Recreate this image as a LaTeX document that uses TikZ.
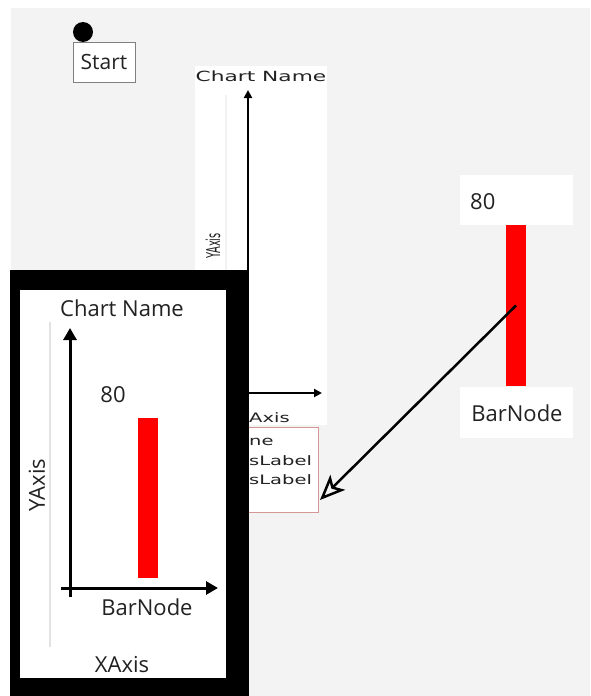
\documentclass[tikz,border=0pt]{standalone}
\usepackage{fontspec}
\usepackage{graphicx}
\setmainfont{Open Sans}
\newfontfamily\dvfont{DejaVu Sans}
\usetikzlibrary{arrows.meta}
\definecolor{canvasgray}{RGB}{243,243,243}
\definecolor{rose}{RGB}{214,150,150}
\definecolor{hairgray}{RGB}{226,226,226}
\definecolor{paleline}{RGB}{242,242,242}
\definecolor{uitext}{RGB}{34,34,34}
\newcommand{\wide}[1]{\scalebox{1.5}[1]{#1}}
\pgfdeclarelayer{backlayer}
\pgfdeclarelayer{panellayer}
\pgfdeclarelayer{framelayer}
\pgfsetlayers{backlayer,panellayer,framelayer,main}
\tikzstyle{none}=[inner sep=0pt]
\tikzstyle{canvas}=[rectangle,fill=canvasgray,draw=none,minimum width=579,minimum height=688]
\tikzstyle{startdot}=[circle,fill=black,draw=none,minimum size=20,inner sep=0pt]
\tikzstyle{startbox}=[rectangle,fill=white,draw=gray,line width=1,minimum width=62,minimum height=40,inner sep=0pt,text=uitext,font=\fontsize{21}{25}\selectfont]
\tikzstyle{panel}=[rectangle,fill=white,draw=none,minimum width=132,minimum height=359]
\tikzstyle{labelbox}=[rectangle,fill=white,draw=rose,line width=1,minimum width=88,minimum height=85]
\tikzstyle{frame}=[rectangle,fill=black,draw=none,minimum width=239,minimum height=426]
\tikzstyle{sheet}=[rectangle,fill=white,draw=none,minimum width=206,minimum height=388]
\tikzstyle{whitebox}=[rectangle,fill=white,draw=none,minimum width=113,minimum height=50]
\tikzstyle{bar}=[rectangle,fill=red,draw=none,minimum width=20,inner sep=0pt]
\tikzstyle{label}=[inner sep=0pt,text=uitext,font=\fontsize{22}{26}\selectfont]
\tikzstyle{smalllabel}=[inner sep=0pt,text=uitext,font=\dvfont\fontsize{13}{15}\selectfont]
\tikzstyle{hairline}=[-,draw=hairgray,line width=1.2]
\tikzstyle{thinaxis}=[-{Triangle[length=8pt,width=8pt]},line width=2]
\tikzstyle{axis}=[-{Triangle[length=12pt,width=13pt]},line width=3]
\tikzstyle{dragarrow}=[-{Stealth[open,length=25pt,width=21pt,inset=6pt]},line width=2.5]

\begin{document}
\begin{tikzpicture}[x=1pt,y=-1pt]
	\useasboundingbox (0,0) rectangle (591,696);
	\begin{pgfonlayer}{backlayer}
		\node [style=canvas] (bg) at (300.5,352) {};
		\node [style=startdot] (dot) at (83,32) {};
		\node [style=startbox] (start) at (104,62) {Start};
		\node [style=panel] (chart) at (261,245.5) {};
	\end{pgfonlayer}
	\begin{pgfonlayer}{panellayer}
		\node [style=smalllabel,font=\dvfont\fontsize{14}{16}\selectfont] (ctitle) at (261,76) {\scalebox{1.55}[1]{Chart Name}};
		\node [style=smalllabel,rotate=90,font=\dvfont\fontsize{19}{21}\selectfont] (cyaxis) at (213,246) {\scalebox{0.52}[1]{YAxis}};
		\node [style=smalllabel,anchor=west] (cxaxis) at (249,418) {\wide{Axis}};

		\node [style=none] (cyb) at (248,400) {};
		\node [style=none] (cyt) at (248,90) {};
		\node [style=none] (cxl) at (240,393) {};
		\node [style=none] (cxr) at (322,393) {};
		\node [style=none] (cgt) at (226,95) {};
		\node [style=none] (cgb) at (226,270) {};

		\node [style=labelbox] (labels) at (274,469.5) {};
		\node [style=smalllabel,anchor=west] (lname) at (249,442) {\wide{ne}};
		\node [style=smalllabel,anchor=west] (lxlabel) at (249,461) {\wide{sLabel}};
		\node [style=smalllabel,anchor=west] (lylabel) at (249,480) {\wide{sLabel}};

		\draw [style=hairline,draw=paleline] (cgt.center) to (cgb.center);
		\draw [style=thinaxis] (cyb.center) to (cyt.center);
		\draw [style=thinaxis] (cxl.center) to (cxr.center);
	\end{pgfonlayer}
	\begin{pgfonlayer}{framelayer}
		\node [style=frame] (frame) at (129.5,483) {};
		\node [style=sheet] (sheet) at (123,484) {};
	\end{pgfonlayer}

	\node [style=label] (title) at (122,308) {Chart Name};
	\node [style=label,rotate=90] (yaxis) at (37,485) {YAxis};
	\node [style=label] (xaxis) at (122,665) {XAxis};
	\node [style=label] (value) at (113,395) {80};
	\node [style=bar,minimum height=160] (ibar) at (148,498) {};
	\node [style=label] (name) at (147,607) {BarNode};

	\node [style=none] (yb) at (70,597) {};
	\node [style=none] (yt) at (70,328) {};
	\node [style=none] (xl) at (61,588) {};
	\node [style=none] (xr) at (218,588) {};
	\node [style=none] (gt) at (50,322) {};
	\node [style=none] (gb) at (50,647) {};

	\node [style=whitebox] (valbox) at (516.5,200) {};
	\node [style=label,anchor=west] (rvalue) at (470,202) {80};
	\node [style=bar,minimum height=161] (rbar) at (516,305.5) {};
	\node [style=whitebox,minimum height=51] (namebox) at (516.5,412.5) {};
	\node [style=label] (rname) at (517,413) {BarNode};
	\coordinate (drop) at (320,500);

	\draw [style=hairline] (gt.center) to (gb.center);
	\draw [style=axis] (yb.center) to (yt.center);
	\draw [style=axis] (xl.center) to (xr.center);
	\draw [style=dragarrow] (rbar.center) to (drop);
\end{tikzpicture}
\end{document}
